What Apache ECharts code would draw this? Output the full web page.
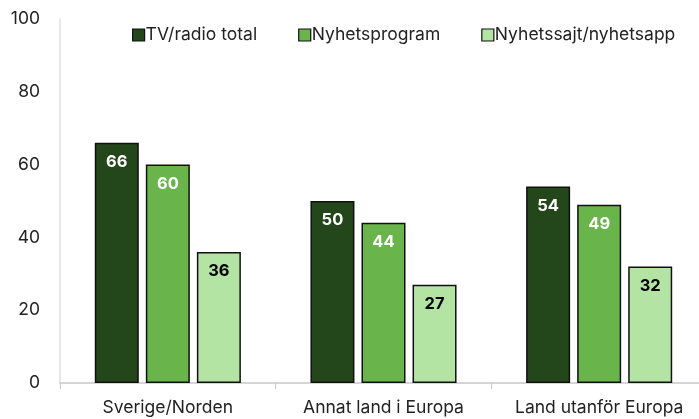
<!DOCTYPE html>
<html>
<head>
<meta charset="utf-8">
<script src="https://cdn.jsdelivr.net/npm/echarts@6/dist/echarts.min.js"></script>
<style>
  html, body { margin: 0; padding: 0; background: #fff; overflow: hidden; }
  #chart { width: 707px; height: 419px; }
</style>
</head>
<body>
<div id="chart"></div>
<script>
const categories = ['Sverige/Norden', 'Annat land i Europa', 'Land utanför Europa']
const seriesNames = ['TV/radio total', 'Nyhetsprogram', 'Nyhetssajt/nyhetsapp']
const tvRadioTotal = [66, 50, 54]
const nyhetsprogram = [60, 44, 49]
const nyhetssajt = [36, 27, 32]
const yTicks = [0, 20, 40, 60, 80, 100]

const colors = ['#23461a', '#6ab44c', '#b4e4a4']
const labelColors = ['#ffffff', '#ffffff', '#000000']
const font = 'Inter, "Open Sans", sans-serif'

const makeSeries = (name, data, i) => ({
  name,
  type: 'bar',
  data,
  barWidth: 44,
  barGap: '16%',
  itemStyle: { color: colors[i], borderColor: '#111', borderWidth: 1.5 },
  label: {
    show: true,
    position: 'insideTop',
    distance: 11,
    color: labelColors[i],
    fontWeight: 'bold',
    fontSize: 16.5,
    fontFamily: font
  }
})

const chart = echarts.init(document.getElementById('chart'))
chart.setOption({
  animation: false,
  legend: {
    data: seriesNames,
    top: 21,
    left: 127,
    itemWidth: 12,
    itemHeight: 12,
    itemGap: 41,
    icon: 'rect',
    textStyle: { fontSize: 17.5, fontFamily: font, color: '#222', padding: [0, 0, 0, -4] },
    itemStyle: { borderColor: '#111', borderWidth: 1.2 }
  },
  grid: { left: 60, right: 0, top: 19, bottom: 36 },
  xAxis: {
    type: 'category',
    data: categories,
    axisLine: { lineStyle: { color: '#c8c8c8', width: 1.5 } },
    axisTick: { show: true, length: 6, lineStyle: { color: '#c8c8c8' } },
    axisLabel: { interval: 0, fontSize: 17.5, fontFamily: font, color: '#222', margin: 16 }
  },
  yAxis: {
    type: 'value',
    min: yTicks[0],
    max: yTicks[yTicks.length - 1],
    interval: 20,
    axisLine: { show: true, lineStyle: { color: '#e0e0e0', width: 1.5 } },
    axisTick: { show: false },
    splitLine: { show: false },
    axisLabel: { fontSize: 17.5, fontFamily: font, color: '#222', margin: 20 }
  },
  series: [
    makeSeries(seriesNames[0], tvRadioTotal, 0),
    makeSeries(seriesNames[1], nyhetsprogram, 1),
    makeSeries(seriesNames[2], nyhetssajt, 2)
  ]
})
</script>
</body>
</html>
